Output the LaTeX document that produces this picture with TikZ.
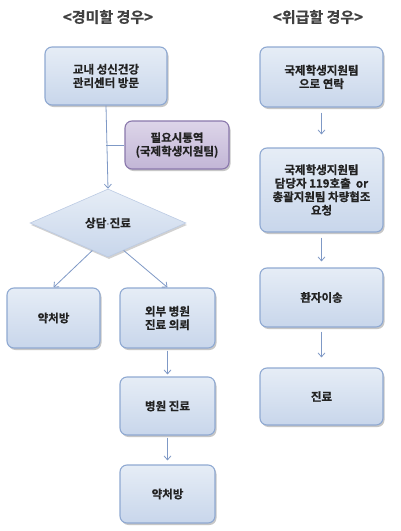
\documentclass[tikz,border=0pt]{standalone}
\usepackage{fontspec}
\setmainfont{Noto Sans CJK KR Bold}[FakeBold=0.6]
\usetikzlibrary{shapes.geometric,shadows,arrows.meta,calc}
\definecolor{boxedge}{HTML}{8FA9D2}
\definecolor{boxtop}{HTML}{E6EDF6}
\definecolor{boxbot}{HTML}{C8D6EB}
\definecolor{purpedge}{HTML}{8A78AC}
\definecolor{purptop}{HTML}{DDD5E9}
\definecolor{purpbot}{HTML}{C2B6D6}
\definecolor{arrowc}{HTML}{7F99C6}
\definecolor{titlec}{HTML}{404040}
\definecolor{textc}{HTML}{222222}
\tikzset{
  flowbox/.style={rectangle, rounded corners=7pt, draw=boxedge, line width=1.1pt,
    top color=boxtop, bottom color=boxbot, align=center, inner sep=2pt,
    font=\fontsize{11.5}{13.5}\selectfont, text=textc,
    drop shadow={shadow xshift=1.5pt, shadow yshift=-2pt, opacity=0.55, fill=gray!80}},
  purpbox/.style={flowbox, draw=purpedge, top color=purptop, bottom color=purpbot},
  decide/.style={diamond, draw=boxedge!60, line width=0.6pt, top color=boxtop, bottom color=boxbot,
    inner sep=0pt, align=center, font=\fontsize{11.5}{13.5}\selectfont, text=textc,
    drop shadow={shadow xshift=1pt, shadow yshift=-2pt, opacity=0.45, fill=gray!80}},
  title/.style={font=\fontsize{15}{17}\selectfont, text=titlec},
  flow/.style={draw=arrowc, line width=0.8pt, -{Straight Barb[length=4pt,width=7pt]}},
  plain/.style={draw=arrowc, line width=0.8pt}
}
\begin{document}
\begin{tikzpicture}[x=1pt,y=-1pt]
\useasboundingbox (0,0) rectangle (400,531);
\fill[white] (0,0) rectangle (400,531);

\node[title] (t1) at (108,17) {<경미할 경우>};
\node[title] (t2) at (318,17) {<위급할 경우>};

% left column
\node[flowbox, minimum width=122pt, minimum height=58pt] (a) at (106,76) {교내 성신건강\\관리센터 방문};
\node[purpbox, minimum width=104pt, minimum height=48pt] (p) at (177,145) {필요시통역\\(국제학생지원팀)};
\node[decide, minimum width=156pt, minimum height=68pt] (d) at (108,223) {상담$\cdot$진료};
\node[flowbox, minimum width=93pt, minimum height=60pt] (l1) at (53.5,318) {약처방};
\node[flowbox, minimum width=95pt, minimum height=60pt] (r1) at (167.5,318) {외부 병원\\진료 의뢰};
\node[flowbox, minimum width=95pt, minimum height=58pt] (r2) at (167.5,406) {병원 진료};
\node[flowbox, minimum width=95pt, minimum height=58pt] (r3) at (167.5,494) {약처방};

\coordinate (j) at (a.south |- p.west);
\draw[flow] (a.south) -- (d.north);
\draw[plain] (j) -- (p.west);
\draw[flow] ($(d.south)!0.2!(d.west)$) -- (l1.north);
\draw[flow] ($(d.south)!0.2!(d.east)$) -- (r1.north);
\draw[flow, shorten <=2pt, shorten >=2pt] (r1.south) -- (r2.north);
\draw[flow, shorten <=2pt, shorten >=4pt] (r2.south) -- (r3.north);

% right column
\node[flowbox, minimum width=123pt, minimum height=60pt] (e1) at (321.5,77) {국제학생지원팀\\으로 연락};
\node[flowbox, minimum width=123pt, minimum height=84pt] (e2) at (321.5,190) {국제학생지원팀\\담당자 119호출~ or\\총괄지원팀 차량협조\\요청};
\node[flowbox, minimum width=123pt, minimum height=59pt] (e3) at (321.5,297.5) {환자이송};
\node[flowbox, minimum width=123pt, minimum height=57pt] (e4) at (321.5,396.5) {진료};

\draw[flow, shorten <=5pt, shorten >=13pt] (e1.south) -- (e2.north);
\draw[flow, shorten <=5pt, shorten >=6pt] (e2.south) -- (e3.north);
\draw[flow, shorten <=4pt, shorten >=10pt] (e3.south) -- (e4.north);
\end{tikzpicture}
\end{document}
